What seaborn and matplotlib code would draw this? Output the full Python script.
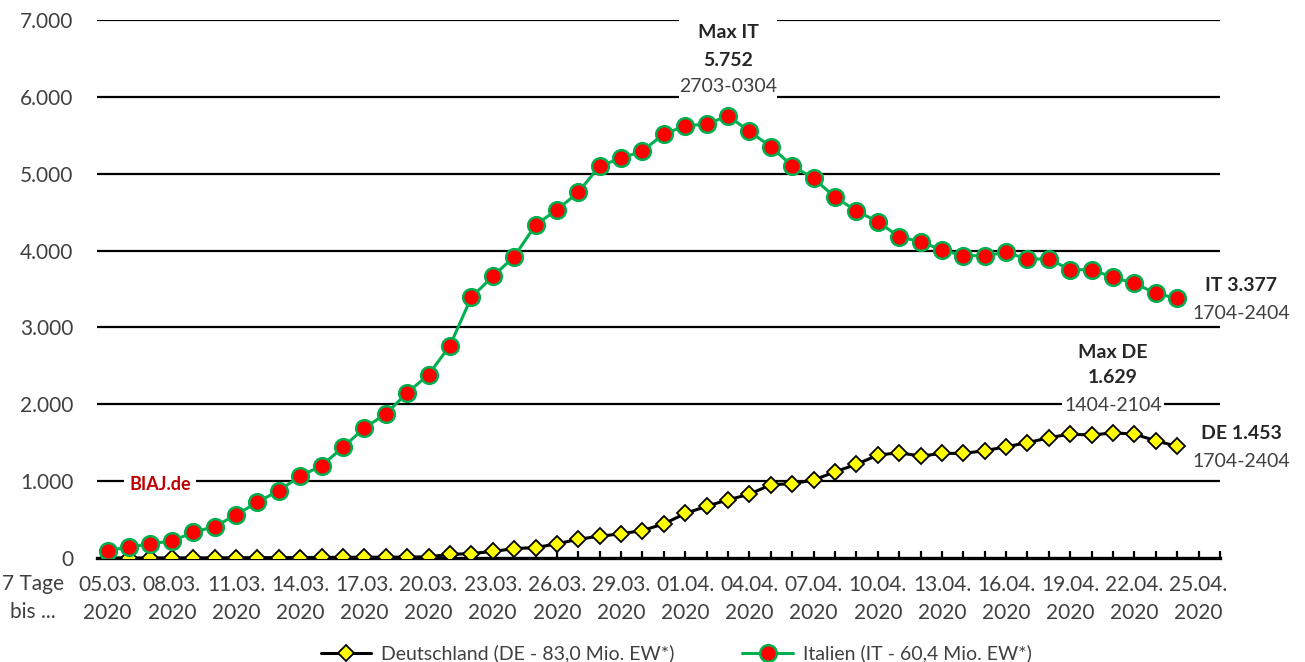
import pandas as pd
import seaborn as sns
from matplotlib import pyplot as plt
from matplotlib.patches import Rectangle
from matplotlib.ticker import FuncFormatter, MultipleLocator

# 7-day sums, windows ending 05.03.2020 ... 24.04.2020
italien = [97, 141, 188, 219, 336, 409, 561, 726, 877, 1064,
           1202, 1441, 1692, 1875, 2148, 2386, 2763, 3392, 3663, 3920,
           4332, 4531, 4757, 5103, 5199, 5298, 5515, 5623, 5646, 5752,
           5551, 5351, 5103, 4940, 4695, 4518, 4375, 4180, 4115, 4007,
           3933, 3933, 3977, 3890, 3890, 3751, 3751, 3652, 3574, 3444,
           3377]
deutschland = [0, 0, 0, 1, 1, 2, 3, 4, 5, 6,
               8, 9, 10, 11, 12, 16, 47, 58, 85, 122,
               136, 184, 244, 283, 316, 357, 445, 579, 674, 757,
               830, 953, 968, 1013, 1122, 1218, 1339, 1370, 1326, 1361,
               1361, 1396, 1448, 1500, 1565, 1612, 1599, 1629, 1612, 1525,
               1453]
tick_labels = ["05.03.", "08.03.", "11.03.", "14.03.", "17.03.", "20.03.",
               "23.03.", "26.03.", "29.03.", "01.04.", "04.04.", "07.04.",
               "10.04.", "13.04.", "16.04.", "19.04.", "22.04.", "25.04."]
year = "2020"
label_de = "Deutschland (DE - 83,0 Mio. EW*)"
label_it = "Italien (IT - 60,4 Mio. EW*)"
max_it_window = "2703-0304"
max_de_window = "1404-2104"
last_window = "1704-2404"

df = pd.DataFrame({"Tag": range(len(italien)), "IT": italien, "DE": deutschland})

sns.set_theme(style="white")
plt.rcParams["font.family"] = ["Lato", "DejaVu Sans"]

fig = plt.figure(figsize=(13.05, 6.62), dpi=100)
ax = fig.add_axes([97 / 1305, 104 / 662, 1123 / 1305, 538 / 662])

text_grey = "#404040"
green = "#00B050"

sns.lineplot(data=df, x="Tag", y="DE", ax=ax, color="black", linewidth=2.2,
             marker="D", markersize=8.5, markerfacecolor="#FFFF00",
             markeredgecolor="black", markeredgewidth=1.3, label=label_de, zorder=4)
sns.lineplot(data=df, x="Tag", y="IT", ax=ax, color=green, linewidth=2.2,
             marker="o", markersize=12, markerfacecolor="#FF0000",
             markeredgecolor=green, markeredgewidth=1.8, label=label_it, zorder=5)

ax.set_xlim(-0.5, 52)
ax.set_ylim(0, 7000)
for v in range(1000, 7001, 1000):
    ax.axhline(v, color="black", linewidth=1.6, zorder=1)

for side in ["left", "right", "top"]:
    ax.spines[side].set_visible(False)
ax.spines["bottom"].set_color("black")
ax.spines["bottom"].set_linewidth(2.4)
ax.spines["bottom"].set_zorder(3)

ax.yaxis.set_major_locator(MultipleLocator(1000))
ax.yaxis.set_major_formatter(FuncFormatter(lambda v, p: f"{int(v):,}".replace(",", ".")))
ax.tick_params(axis="y", length=0, pad=17, labelsize=15, labelcolor=text_grey)

ax.set_xticks(range(0, 3 * len(tick_labels), 3))
ax.set_xticklabels([f"{t}\n{year}" for t in tick_labels], linespacing=1.55)
ax.xaxis.set_minor_locator(MultipleLocator(1))
ax.tick_params(axis="x", which="both", direction="in", length=5, width=1.6,
               color="black", bottom=True, pad=12, labelsize=15, labelcolor=text_grey)
ax.set_xlabel("")
ax.set_ylabel("")
ax.get_legend().remove()

fig.text(33 / 1305, 64 / 662, "7 Tage\nbis ...", ha="center", va="center",
         fontsize=15, color=text_grey, linespacing=1.55)

# annotations
i_it = italien.index(max(italien))
i_de = deutschland.index(max(deutschland))
last = len(italien) - 1
fmt = lambda v: f"{v:,}".replace(",", ".")

ax.add_patch(Rectangle((i_it - 2.3, 5900), 4.6, 1200, facecolor="white",
                       edgecolor="none", zorder=2, clip_on=False))
bold = dict(fontsize=14, fontweight="bold", color="#262626", ha="center", va="center",
            textcoords="offset points", annotation_clip=False)
normal = dict(fontsize=14, color=text_grey, ha="center", va="center",
              textcoords="offset points", annotation_clip=False)

ax.annotate("Max IT", (i_it, italien[i_it]), xytext=(0, 60), **bold)
ax.annotate(fmt(italien[i_it]), (i_it, italien[i_it]), xytext=(0, 40), **bold)
ax.annotate(max_it_window, (i_it, italien[i_it]), xytext=(0, 21), **normal)

ax.annotate("Max DE", (i_de, deutschland[i_de]), xytext=(0, 58), **bold)
ax.annotate(fmt(deutschland[i_de]), (i_de, deutschland[i_de]), xytext=(0, 39.5), **bold)
ax.annotate(max_de_window, (i_de, deutschland[i_de]), xytext=(0, 20),
            bbox=dict(boxstyle="square,pad=0.1", facecolor="white", edgecolor="none"),
            **normal)

ax.annotate(f"IT {fmt(italien[last])}", (last, italien[last]), xytext=(46, 9), **bold)
ax.annotate(last_window, (last, italien[last]), xytext=(46, -11), **normal)
ax.annotate(f"DE {fmt(deutschland[last])}", (last, deutschland[last]), xytext=(46, 9), **bold)
ax.annotate(last_window, (last, deutschland[last]), xytext=(46, -11), **normal)

ax.text(0.056, 0.1375, "BIAJ.de", transform=ax.transAxes, ha="center", va="center",
        fontsize=13, fontweight="bold", color="#C00000", zorder=3,
        bbox=dict(boxstyle="square,pad=0.3", facecolor="white", edgecolor="none"))

handles, labels = ax.get_legend_handles_labels()
fig.legend(handles, labels, loc="center", bbox_to_anchor=(0.518, 0.013), ncol=2,
           frameon=False, fontsize=14, labelcolor=text_grey, handlelength=2.6,
           columnspacing=3.5, handletextpad=0.5)

fig.savefig("out.png", dpi=100)
